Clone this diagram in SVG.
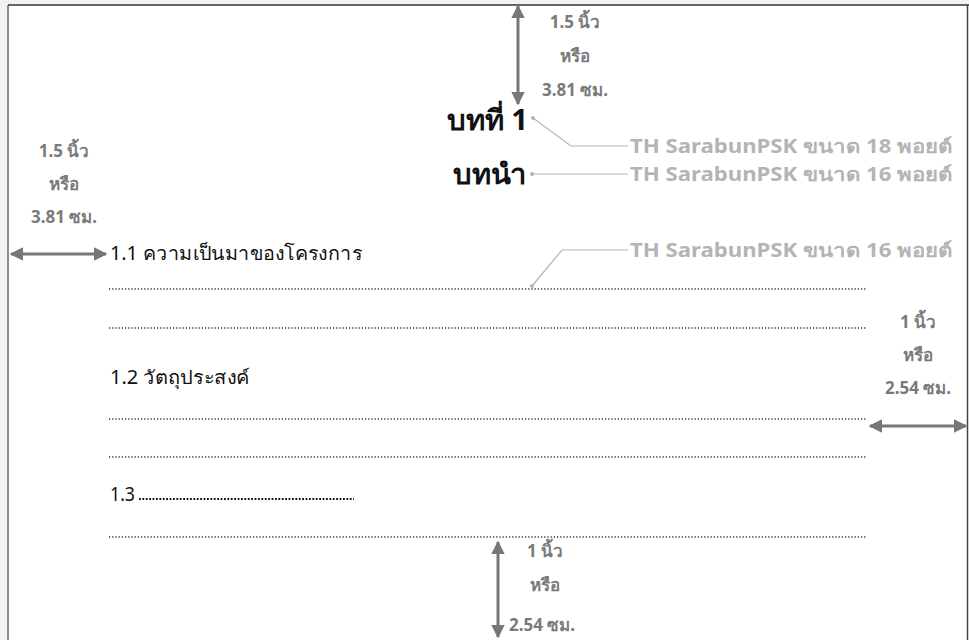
<svg xmlns="http://www.w3.org/2000/svg" width="969" height="640" viewBox="0 0 969 640">
<defs>
<style>
.dim{font-family:"Noto Sans","DejaVu Sans",sans-serif;font-weight:bold;font-size:17px;fill:#7a7a7a}
.note{font-family:"Noto Sans","DejaVu Sans",sans-serif;font-weight:bold;font-size:19px;fill:#b4b4b8}
.body{font-family:"Noto Sans","DejaVu Sans",sans-serif;font-size:19px;fill:#111}
.head{font-family:"Noto Sans","DejaVu Sans",sans-serif;font-weight:bold;font-size:28px;fill:#111}
.dots{stroke:#333;stroke-width:1.6;stroke-dasharray:1.2 2;fill:none}
.arr{stroke:#777;stroke-width:3;fill:none}
.lead{stroke:#b4b4b8;stroke-width:1.2;fill:none}
</style>
<marker id="ah" viewBox="0 0 10 10" refX="9" refY="5" markerWidth="4.5" markerHeight="4.5" markerUnits="strokeWidth" orient="auto-start-reverse">
<path d="M0,0 L10,5 L0,10 Z" fill="#777"/>
</marker>
</defs>
<rect x="0" y="0" width="969" height="640" fill="#f2f2f2"/>
<rect x="8" y="5" width="961" height="640" fill="#fff"/>
<line x1="8" y1="5" x2="8" y2="640" stroke="#8a8a8a" stroke-width="2"/>
<line x1="8" y1="5" x2="969" y2="5" stroke="#333" stroke-width="1.5"/>
<line x1="967.5" y1="5" x2="967.5" y2="640" stroke="#444" stroke-width="1.5"/>

<g id="connectors">
<line class="arr" x1="518" y1="6" x2="518" y2="104" marker-start="url(#ah)" marker-end="url(#ah)"/>
<line class="arr" x1="11" y1="254" x2="106" y2="254" marker-start="url(#ah)" marker-end="url(#ah)"/>
<line class="arr" x1="870" y1="426" x2="966" y2="426" marker-start="url(#ah)" marker-end="url(#ah)"/>
<line class="arr" x1="498" y1="542" x2="498" y2="637" marker-start="url(#ah)" marker-end="url(#ah)"/>
<polyline class="lead" points="533,118 571,146 628,146"/>
<circle cx="533" cy="118" r="2" fill="#b4b4b8"/>
<line class="lead" x1="532" y1="174" x2="628" y2="174"/>
<circle cx="532" cy="174" r="2" fill="#b4b4b8"/>
<polyline class="lead" points="532,286 562,250 628,250"/>
<circle cx="532" cy="286" r="2" fill="#b4b4b8"/>
</g>

<g id="top-margin">
<text class="dim" x="575" y="28" text-anchor="middle">1.5 นิ้ว</text>
<text class="dim" x="575" y="62" text-anchor="middle">หรือ</text>
<text class="dim" x="575" y="96" text-anchor="middle">3.81 ซม.</text>
</g>
<g id="left-margin">
<text class="dim" x="64" y="157" text-anchor="middle">1.5 นิ้ว</text>
<text class="dim" x="64" y="190" text-anchor="middle">หรือ</text>
<text class="dim" x="64" y="223" text-anchor="middle">3.81 ซม.</text>
</g>
<g id="right-margin">
<text class="dim" x="918" y="328" text-anchor="middle">1 นิ้ว</text>
<text class="dim" x="918" y="361" text-anchor="middle">หรือ</text>
<text class="dim" x="918" y="394" text-anchor="middle">2.54 ซม.</text>
</g>
<g id="bottom-margin">
<text class="dim" x="545" y="557" text-anchor="middle">1 นิ้ว</text>
<text class="dim" x="545" y="591" text-anchor="middle">หรือ</text>
<text class="dim" x="542" y="631" text-anchor="middle">2.54 ซม.</text>
</g>

<g id="chapter">
<text class="head" x="447" y="130" textLength="81" lengthAdjust="spacingAndGlyphs">บทที่ 1</text>
<text class="head" x="453" y="184" textLength="74" lengthAdjust="spacingAndGlyphs">บทนำ</text>
</g>
<g id="notes">
<text class="note" x="630" y="153" textLength="322" lengthAdjust="spacingAndGlyphs">TH SarabunPSK ขนาด 18 พอยต์</text>
<text class="note" x="630" y="181" textLength="322" lengthAdjust="spacingAndGlyphs">TH SarabunPSK ขนาด 16 พอยต์</text>
<text class="note" x="630" y="257" textLength="322" lengthAdjust="spacingAndGlyphs">TH SarabunPSK ขนาด 16 พอยต์</text>
</g>

<g id="content">
<text class="body" x="110" y="260" textLength="252" lengthAdjust="spacingAndGlyphs">1.1 ความเป็นมาของโครงการ</text>
<line class="dots" x1="109" y1="289" x2="866" y2="289"/>
<line class="dots" x1="109" y1="328" x2="866" y2="328"/>
<text class="body" x="110" y="384" textLength="140" lengthAdjust="spacingAndGlyphs">1.2 วัตถุประสงค์</text>
<line class="dots" x1="109" y1="419" x2="866" y2="419"/>
<line class="dots" x1="109" y1="457" x2="866" y2="457"/>
<text class="body" x="110" y="501" textLength="25" lengthAdjust="spacingAndGlyphs">1.3</text>
<line x1="139" y1="499" x2="354" y2="499" stroke="#111" stroke-width="2.2" stroke-dasharray="1.8 1.6"/>
<line class="dots" x1="109" y1="537" x2="866" y2="537"/>
</g>
</svg>
